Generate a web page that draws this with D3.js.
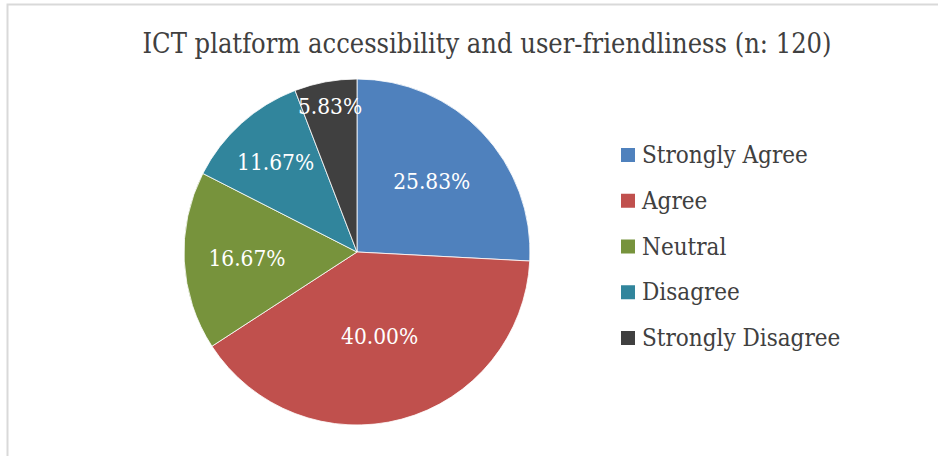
<!DOCTYPE html>
<html>
<head>
<meta charset="utf-8">
<script src="https://cdn.jsdelivr.net/npm/d3@7"></script>
<style>
  html, body { margin: 0; padding: 0; background: #fff; }
  svg { display: block; }
  text { font-family: "DejaVu Serif", "Liberation Serif", serif; font-stretch: condensed; }
</style>
</head>
<body>
<svg id="chart" width="938" height="456"></svg>
<script>
// Survey responses (n = 120), share of respondents in percent
const categories = ["Strongly Agree", "Agree", "Neutral", "Disagree", "Strongly Disagree"];
const percents = [25.83, 40.00, 16.67, 11.67, 5.83];
const sliceColors = ["#4F81BD", "#C0504D", "#77933C", "#31859C", "#404040"];
const chartTitle = "ICT platform accessibility and user-friendliness (n: 120)";

const svg = d3.select("#chart");
const W = 938, H = 456;

// outer frame
svg.append("rect")
  .attr("x", 7.5).attr("y", 4.5)
  .attr("width", W + 10).attr("height", H + 10)
  .attr("fill", "#fff")
  .attr("stroke", "#D9D9D9").attr("stroke-width", 2);

// title
svg.append("text")
  .attr("x", 487).attr("y", 53)
  .attr("text-anchor", "middle")
  .attr("fill", "#404040")
  .style("font-size", "27px")
  .text(chartTitle);

const cx = 357, cy = 252, r = 173;
const g = svg.append("g").attr("transform", `translate(${cx},${cy})`);

const color = d3.scaleOrdinal().domain(categories).range(sliceColors);
const pie = d3.pie().sort(null).value(d => d.value);
const data = categories.map((c, i) => ({ name: c, value: percents[i] }));
const arcs = pie(data);
const arc = d3.arc().innerRadius(0).outerRadius(r);

g.selectAll("path.slice")
  .data(arcs)
  .enter().append("path")
  .attr("class", "slice")
  .attr("d", arc)
  .attr("fill", d => color(d.data.name))
  .attr("stroke", "#fff")
  .attr("stroke-width", 0.8);

// value labels: placed at the sector centroid, pushed outward on thin slices
const labels = g.selectAll("text.val")
  .data(arcs)
  .enter().append("text")
  .attr("class", "val")
  .attr("text-anchor", "middle")
  .attr("dominant-baseline", "central")
  .attr("fill", "#fff")
  .style("font-size", "22.5px")
  .text(d => d.data.value.toFixed(2) + "%");

labels.each(function(d) {
  const w = this.getComputedTextLength();
  const half = (d.endAngle - d.startAngle) / 2;
  const mid = (d.startAngle + d.endAngle) / 2;
  const centroid = 2 * r * Math.sin(half) / (3 * half);
  const fit = (w / 2) / Math.sin(half) + 14;
  const dist = Math.min(r - 25, Math.max(centroid, fit));
  d3.select(this)
    .attr("x", Math.sin(mid) * dist)
    .attr("y", -Math.cos(mid) * dist);
});

// legend
const legend = svg.append("g").attr("transform", "translate(621,155)");
const row = d3.scalePoint().domain(categories).range([0, 183]);
const items = legend.selectAll("g.item")
  .data(categories)
  .enter().append("g")
  .attr("class", "item")
  .attr("transform", d => `translate(0,${row(d)})`);
items.append("rect")
  .attr("x", 0).attr("y", -7)
  .attr("width", 14).attr("height", 14)
  .attr("fill", d => color(d));
items.append("text")
  .attr("x", 21).attr("y", 0)
  .attr("dominant-baseline", "central")
  .attr("fill", "#404040")
  .style("font-size", "24px")
  .text(d => d);
</script>
</body>
</html>
